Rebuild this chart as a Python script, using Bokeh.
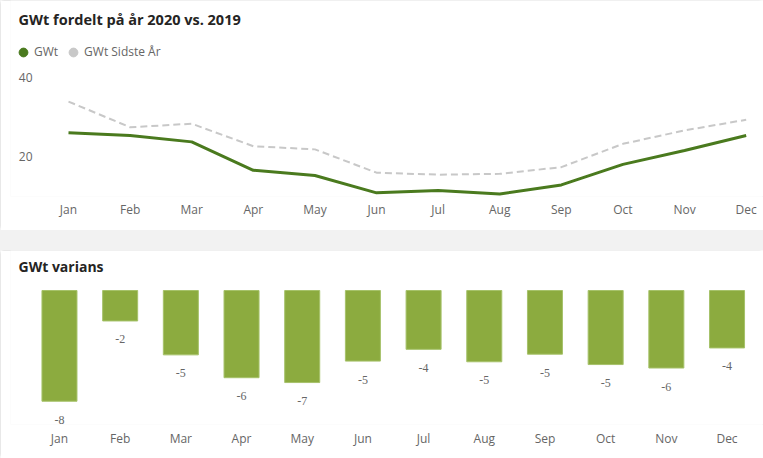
from bokeh.plotting import figure
from bokeh.models import (ColumnDataSource, Range1d, FixedTicker, Legend, LegendItem,
                          LabelSet, Label)
from bokeh.layouts import column
from bokeh.embed import file_html
from bokeh.resources import INLINE

# ---- data ----
months = ["Jan", "Feb", "Mar", "Apr", "May", "Jun",
          "Jul", "Aug", "Sep", "Oct", "Nov", "Dec"]
gwt = [26.0, 25.3, 23.7, 16.5, 15.2, 10.8, 11.4, 10.5, 12.8, 18.0, 21.5, 25.3]
gwt_last_year = [33.9, 27.4, 28.3, 22.6, 21.8, 15.9, 15.4, 15.6, 17.3, 23.2, 26.6, 29.3]
variance = [-8.0, -2.2, -4.65, -6.3, -6.65, -5.1, -4.25, -5.15, -4.6, -5.35, -5.6, -4.15]
y_ticks = [20, 40]

FONT = "Open Sans"
DARK_GREEN = "#4a7a1e"
LIGHT_GRAY = "#c8c8c8"
BAR_GREEN = "#8cab3f"
TEXT_GRAY = "#666666"
TITLE_COLOR = "#252423"
CARD_STYLE = {"outline": "1px solid #e1e1e1", "outline-offset": "-1px",
              "border-radius": "4px"}

idx = list(range(len(months)))
labels = {i: m for i, m in enumerate(months)}
nan = float("nan")

# ---- top chart ----
src1 = ColumnDataSource(dict(x=idx, gwt=gwt, last=gwt_last_year))
p1 = figure(width=763, height=230, x_range=Range1d(-0.9414, 11.281),
            y_range=Range1d(9.87, 59.49), output_backend="svg", toolbar_location=None,
            min_border_left=10, min_border_right=0, min_border_top=0,
            min_border_bottom=34)

p1.line("x", "last", source=src1, line_color=LIGHT_GRAY, line_width=2, line_dash="7 4")
p1.line("x", "gwt", source=src1, line_color=DARK_GREEN, line_width=3)

p1.add_layout(Label(x=8, y=177, x_units="screen", y_units="screen",
                    text="GWt fordelt på år 2020 vs. 2019", text_baseline="middle",
                    text_font=FONT, text_font_size="14.5px", text_font_style="bold",
                    text_color=TITLE_COLOR))

d1 = p1.scatter(x=[nan], y=[nan], marker="circle", size=9, color=DARK_GREEN)
d2 = p1.scatter(x=[nan], y=[nan], marker="circle", size=9, color=LIGHT_GRAY)
legend = Legend(items=[LegendItem(label="GWt", renderers=[d1]),
                       LegendItem(label="GWt Sidste År", renderers=[d2])],
                orientation="horizontal", location=(2, 133.5),
                border_line_color=None, background_fill_alpha=0,
                label_text_font=FONT, label_text_font_size="12px",
                label_text_color=TEXT_GRAY, glyph_width=22, glyph_height=22,
                spacing=4, padding=0, margin=0, label_standoff=-3)
p1.add_layout(legend)

p1.xaxis.ticker = FixedTicker(ticks=idx)
p1.xaxis.major_label_overrides = labels
p1.yaxis.ticker = FixedTicker(ticks=y_ticks)
for ax in (p1.xaxis, p1.yaxis):
    ax.axis_line_color = None
    ax.major_tick_line_color = None
    ax.minor_tick_line_color = None
    ax.major_tick_out = 0
    ax.major_tick_in = 0
    ax.major_label_text_font = FONT
    ax.major_label_text_font_size = "12px"
    ax.major_label_text_color = TEXT_GRAY
p1.xaxis.major_label_standoff = 4
p1.yaxis.major_label_standoff = -22
p1.grid.visible = False
p1.outline_line_color = None
p1.styles = CARD_STYLE

# ---- bottom chart ----
var_labels = [f"{round(v):d}" for v in variance]
src2 = ColumnDataSource(dict(x=idx, v=variance, lab=var_labels))
p2 = figure(width=763, height=208, x_range=Range1d(-0.807, 11.601),
            y_range=Range1d(-9.68, 2.89), output_backend="svg", toolbar_location=None,
            min_border_left=10, min_border_right=0, min_border_top=0,
            min_border_bottom=34)
p2.add_layout(Label(x=8, y=158, x_units="screen", y_units="screen",
                    text="GWt varians", text_baseline="middle",
                    text_font=FONT, text_font_size="14px", text_font_style="bold",
                    text_color=TITLE_COLOR))

p2.vbar(x="x", top=0, bottom="v", width=0.577, source=src2,
        fill_color=BAR_GREEN, line_color="#a6c26a", line_width=1)
p2.add_layout(LabelSet(x="x", y="v", text="lab", source=src2, y_offset=-18.5,
                       text_align="center", text_baseline="middle",
                       text_font=FONT, text_font_size="12px", text_color=TEXT_GRAY))
p2.xaxis.ticker = FixedTicker(ticks=idx)
p2.xaxis.major_label_overrides = labels
p2.xaxis.axis_line_color = None
p2.xaxis.major_tick_line_color = None
p2.xaxis.minor_tick_line_color = None
p2.xaxis.major_tick_out = 0
p2.xaxis.major_tick_in = 0
p2.xaxis.major_label_text_font = FONT
p2.xaxis.major_label_text_font_size = "12px"
p2.xaxis.major_label_text_color = TEXT_GRAY
p2.xaxis.major_label_standoff = 5
p2.yaxis.visible = False
p2.grid.visible = False
p2.outline_line_color = None
p2.styles = CARD_STYLE

layout = column(p1, p2, spacing=20, styles={"background-color": "#f2f2f2"})
open("out.html", "w").write(file_html(layout, INLINE))
